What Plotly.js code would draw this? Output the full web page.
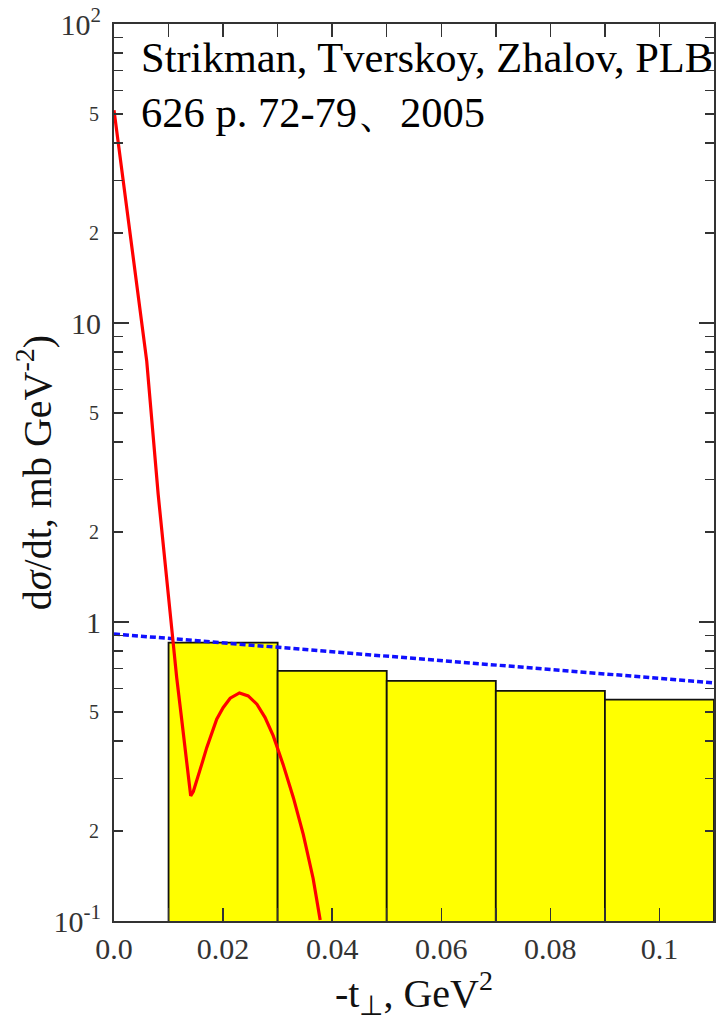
<!DOCTYPE html>
<html>
<head>
<meta charset="utf-8">
<script src="https://cdn.plot.ly/plotly-3.0.1.min.js"></script>
<style>
  html, body {margin:0; padding:0; background:#fff;}
  #plot {width:717px; height:1021px;}
</style>
</head>
<body>
<div id="plot"></div>
<script>
// bins of the histogram (-t, GeV^2)
const bin_centers = [0.02, 0.04, 0.06, 0.08, 0.10];
const bin_values  = [0.853, 0.686, 0.635, 0.588, 0.550];

// red curve
const red_x = [0.0, 0.00293, 0.0060, 0.0081, 0.0101, 0.0107, 0.0115, 0.0124, 0.0132, 0.01406,
               0.01454, 0.01516, 0.01608, 0.0170, 0.0179, 0.01883, 0.0200, 0.0213, 0.0230,
               0.0246, 0.0262, 0.0277, 0.0292, 0.0310, 0.0329, 0.0347, 0.0365, 0.0378];
const red_y = [51.5, 19.8, 7.46, 2.67, 1.175, 0.865, 0.650, 0.474, 0.356, 0.262,
               0.271, 0.293, 0.334, 0.380, 0.426, 0.473, 0.517, 0.556, 0.579,
               0.566, 0.531, 0.479, 0.416, 0.334, 0.258, 0.195, 0.139, 0.1007];

// blue dashed line
const blue_x = [0.0, 0.11];
const blue_y = [0.912, 0.626];

// y tick labels
const big_tickvals = [0.1, 1, 10, 100];
const big_ticktext = ['10<sup>-1</sup>', '1', '10', '10<sup>2</sup>'];
const small_tickvals = [0.2, 0.5, 2, 5, 20, 50];
const small_ticktext = ['2', '5', '2', '5', '2', '5'];
const minor_y = [0.2, 0.3, 0.4, 0.5, 0.6, 0.7, 0.8, 0.9, 2, 3, 4, 5, 6, 7, 8, 9,
                 20, 30, 40, 50, 60, 70, 80, 90];

const x_tickvals = [0.0, 0.02, 0.04, 0.06, 0.08, 0.1];
const x_ticktext = ['0.0', '0.02', '0.04', '0.06', '0.08', '0.1'];

const serif = '"Liberation Serif", "Times New Roman", serif';

let traces = [];

traces.push({
    type: 'bar',
    x: bin_centers, y: bin_values,
    width: 0.02,
    marker: {color: '#ffff00', line: {color: '#111', width: 1.8}},
    hoverinfo: 'skip',
});

traces.push({
    type: 'scatter', mode: 'lines',
    x: blue_x, y: blue_y, yaxis: 'y2',
    line: {color: '#1010ff', width: 3.5, dash: '6px,3px'},
});

traces.push({
    type: 'scatter', mode: 'lines',
    x: red_x, y: red_y, yaxis: 'y3',
    line: {color: '#ff0000', width: 3.2},
});

let tick_style = {ticks: 'inside', tickwidth: 1.5, tickcolor: '#333'};

let layout = {
    width: 717, height: 1021,
    margin: {l: 114, r: 3, t: 24, b: 100},
    paper_bgcolor: '#fff',
    plot_bgcolor: '#fff',
    showlegend: false,
    bargap: 0,
    font: {family: serif, color: '#222'},
    xaxis: {
        range: [0, 0.11],
        tickmode: 'array', tickvals: x_tickvals, ticktext: x_ticktext,
        ...tick_style, ticklen: 13,
        minor: {dtick: 0.01, tick0: 0, ...tick_style, ticklen: 9},
        showline: true, linecolor: '#333', linewidth: 2, mirror: 'allticks',
        showgrid: false, zeroline: false,
        tickfont: {size: 30, color: '#333'},
        title: {text: '-t<sub>⊥</sub>, GeV<sup>2</sup>', font: {size: 40, color: '#111'}, standoff: 22},
    },
    yaxis: {
        type: 'log', range: [-1, 2],
        tickmode: 'array', tickvals: big_tickvals,
        ...tick_style, ticklen: 15,
        minor: {tickmode: 'array', tickvals: minor_y, ...tick_style, ticklen: 9},
        showline: true, linecolor: '#333', linewidth: 2, mirror: 'allticks',
        showgrid: false, zeroline: false,
        showticklabels: false,
        title: {text: 'd<i>σ</i>/dt, mb GeV<sup>-2</sup>)', font: {size: 40, color: '#111'}, standoff: 48},
    },
    yaxis2: {
        type: 'log', range: [-1, 2], overlaying: 'y', side: 'left',
        tickmode: 'array', tickvals: big_tickvals, ticktext: big_ticktext,
        ticks: '', showline: false, showgrid: false, zeroline: false,
        tickfont: {size: 30, color: '#333'},
        ticklabelstandoff: 12,
    },
    yaxis3: {
        type: 'log', range: [-1, 2], overlaying: 'y', side: 'left',
        tickmode: 'array', tickvals: small_tickvals, ticktext: small_ticktext,
        ticks: '', showline: false, showgrid: false, zeroline: false,
        tickfont: {size: 20, color: '#333'},
        ticklabelstandoff: 14,
    },
    annotations: [{
        xref: 'paper', yref: 'paper', x: 0.041, y: 0.991,
        xanchor: 'left', yanchor: 'top', align: 'left',
        text: 'Strikman, Tverskoy, Zhalov, PLB<br>626 p. 72-79、2005',
        showarrow: false,
        font: {family: serif, size: 42.5, color: '#000'},
    }],
};

Plotly.newPlot('plot', traces, layout, {displayModeBar: false, staticPlot: true});
</script>
</body>
</html>
